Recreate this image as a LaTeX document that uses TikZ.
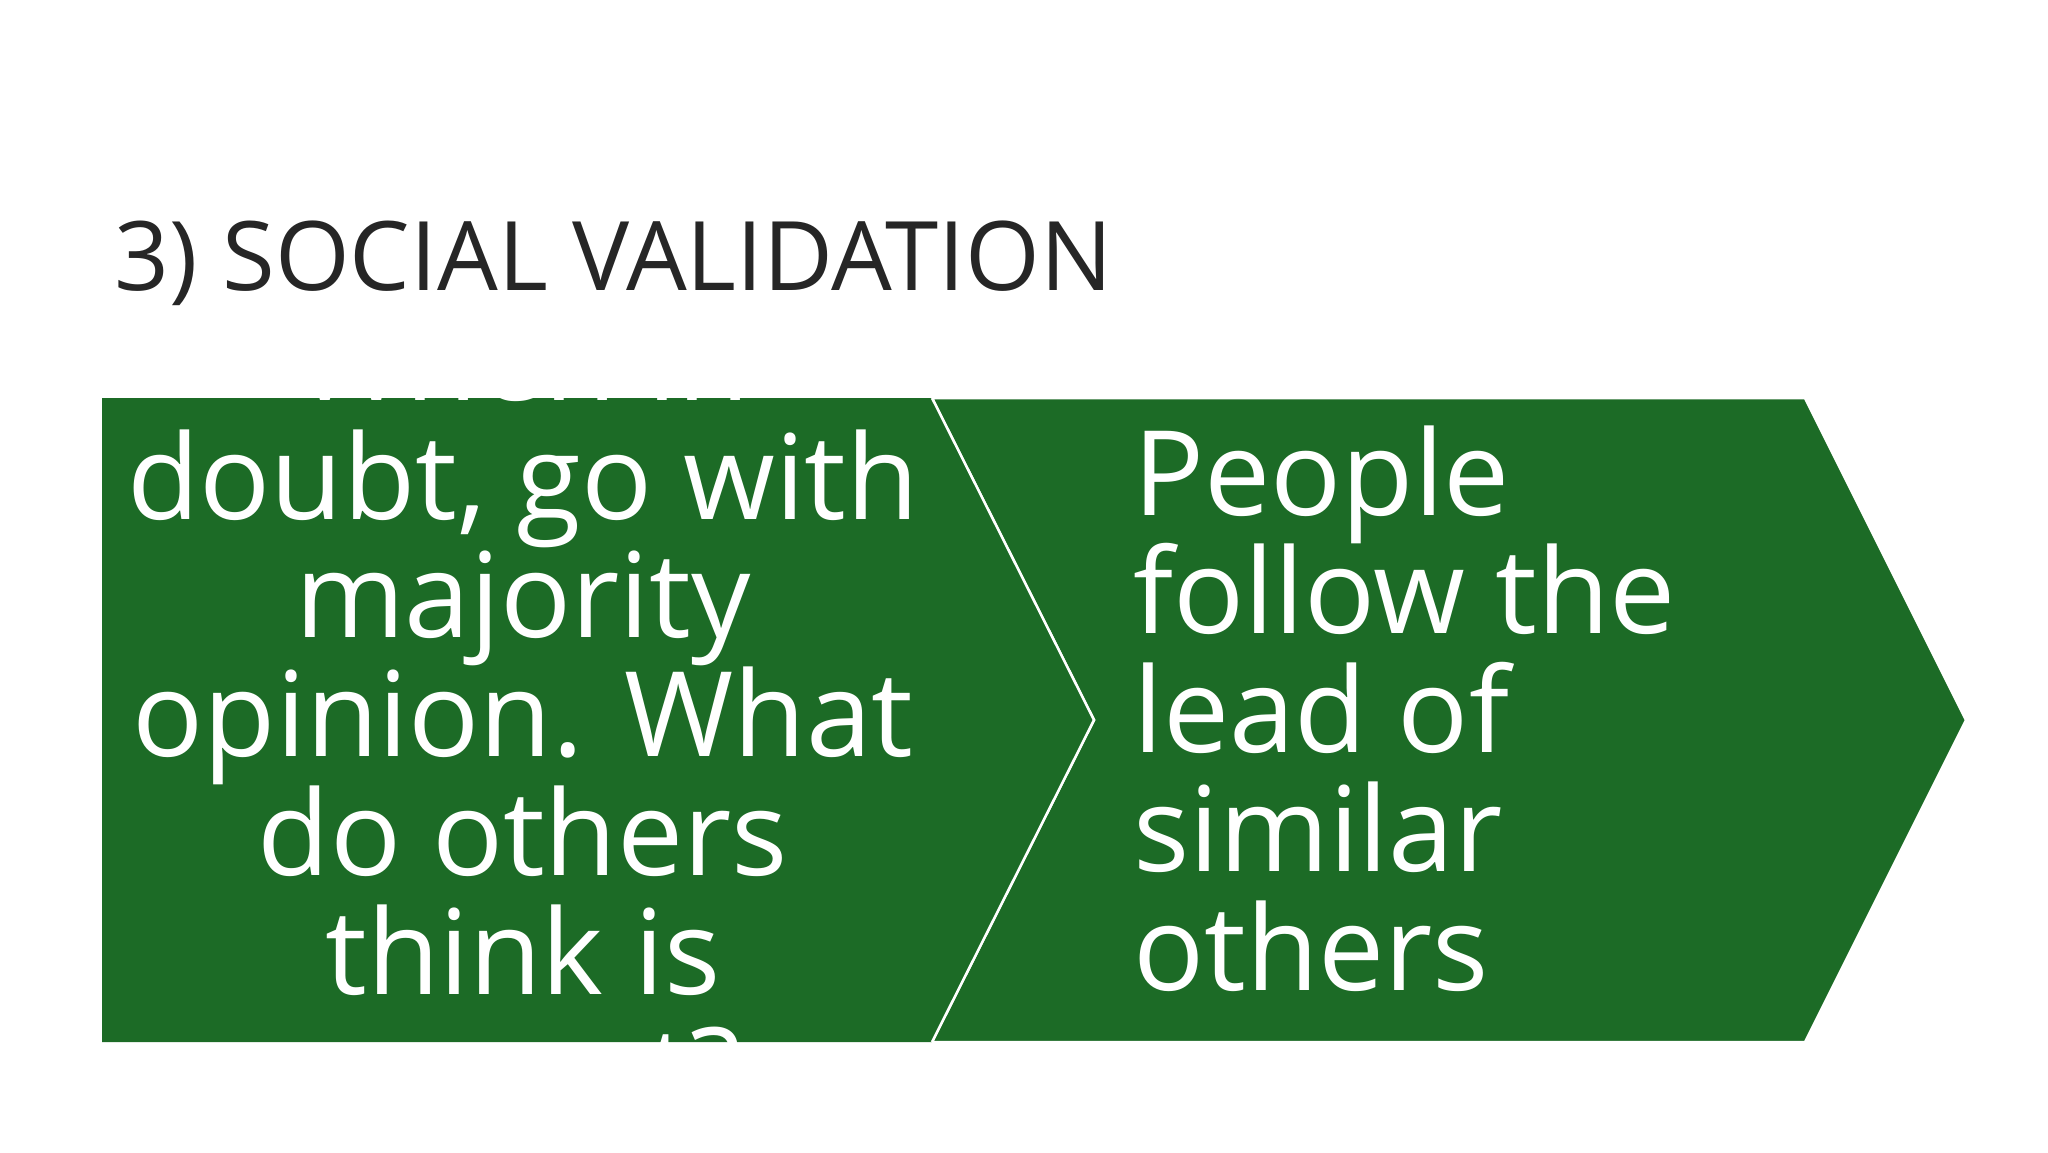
\documentclass[tikz,border=0pt]{standalone}
\usepackage{fontspec}
\setmainfont{Open Sans}
\definecolor{grn}{HTML}{1C6B26}
\definecolor{ttl}{HTML}{262626}
\tikzset{big/.style={text=white,font=\fontsize{118}{119}\selectfont,inner sep=0pt}}
\begin{document}
\begin{tikzpicture}[x=1pt,y=-1pt]
\useasboundingbox (0,0) rectangle (2048,1152);
\node[anchor=base west,inner sep=0pt,text=ttl,font=\fontsize{96}{96}\selectfont] (title) at (114,290) {3) SOCIAL VALIDATION};
\coordinate (p1) at (102,398);
\path[fill=grn,draw=white,line width=2.5pt] (1805,398) -- (1966,720) -- (1805,1042) -- (932,1042) -- (1094,720) -- (932,398) -- cycle;
\begin{scope}
\clip (102,398) -- (932,398) -- (1094,720) -- (932,1042) -- (102,1042) -- cycle;
\fill[grn] (102,398) -- (932,398) -- (1094,720) -- (932,1042) -- (102,1042) -- cycle;
\foreach \t/\y [count=\i] in {When in/400,{doubt, go with}/519,majority/637,opinion. What/756,do others/875,think is/994,correct?/1112}
  \node[big,anchor=base] (l\i) at (523,\y) {\t};
\end{scope}
\draw[white,line width=2.5pt] (932,398) -- (1094,720) -- (932,1042);
\foreach \t/\y [count=\i] in {People/515,follow the/633,lead of/752,similar/871,others/990}
  \node[big,anchor=base west] (r\i) at (1133,\y) {\t};
\end{tikzpicture}
\end{document}
